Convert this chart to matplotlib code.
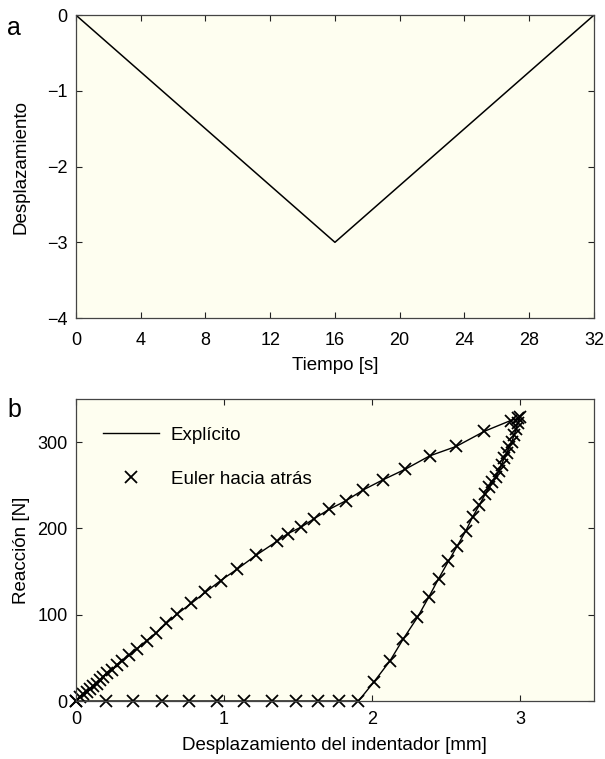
import matplotlib
matplotlib.use("Agg")
import matplotlib.pyplot as plt
from matplotlib import font_manager

# ---------------- data ----------------
# panel a: prescribed displacement vs time
time_s = [0, 16, 32]
disp_a = [0, -3, 0]
xticks_a = [0, 4, 8, 12, 16, 20, 24, 28, 32]
yticks_a = [-4, -3, -2, -1, 0]

# panel b: reaction vs indenter displacement (loading + unloading + no contact)
load_x = [0.0, 0.027, 0.049, 0.072, 0.094, 0.117, 0.139, 0.162, 0.184, 0.211,
          0.241, 0.274, 0.312, 0.360, 0.409, 0.477, 0.544, 0.611, 0.685, 0.778,
          0.875, 0.977, 1.091, 1.218, 1.358, 1.432, 1.522, 1.607, 1.710, 1.824,
          1.940, 2.077, 2.225, 2.390, 2.570, 2.760, 2.938, 2.990]
load_y = [0.0, 4.7, 7.8, 10.9, 14.0, 17.0, 20.0, 24.0, 28.0, 32.0,
          36.0, 42.0, 46.5, 53.0, 60.0, 70.0, 79.0, 90.0, 101.0, 113.0,
          126.0, 139.5, 153.0, 169.0, 185.0, 194.0, 201.5, 211.0, 222.0, 232.0,
          244.5, 256.5, 268.5, 284.0, 295.0, 312.5, 325.0, 327.5]
peak_x = [3.0]
peak_y = [329.0]
unload_x = [2.985, 2.975, 2.960, 2.945, 2.928, 2.910, 2.893, 2.876, 2.858, 2.837,
            2.814, 2.794, 2.765, 2.726, 2.680, 2.634, 2.578, 2.517, 2.450, 2.383,
            2.308, 2.212, 2.122, 2.013, 1.909]
unload_y = [322.0, 315.0, 308.0, 300.0, 294.0, 287.0, 281.0, 274.0, 267.0, 260.0,
            254.0, 248.0, 239.5, 227.0, 213.0, 197.0, 180.0, 162.0, 141.5, 120.0,
            97.0, 72.0, 46.5, 22.0, 0.0]
free_x = [1.779, 1.638, 1.487, 1.323, 1.133, 0.951, 0.763, 0.581, 0.385, 0.203, 0.0]
free_y = [0, 0, 0, 0, 0, 0, 0, 0, 0, 0, 0]
xticks_b = [0, 1, 2, 3]
yticks_b = [0, 100, 200, 300]

# ---------------- style ----------------
names = {f.name for f in font_manager.fontManager.ttflist}
fam = "Liberation Sans Narrow" if "Liberation Sans Narrow" in names else "Liberation Sans"
plt.rcParams['font.family'] = [fam, 'DejaVu Sans']
plt.rcParams['axes.unicode_minus'] = True

face = "#FEFEF0"
fs = 13

fig = plt.figure(figsize=(6.05, 7.59), dpi=100)
ax1 = fig.add_axes([0.1256, 0.5810, 0.856, 0.399])
ax2 = fig.add_axes([0.1256, 0.0764, 0.856, 0.398])

for ax in (ax1, ax2):
    ax.set_facecolor(face)
    ax.tick_params(direction='in', top=True, right=True, length=4, width=0.8,
                   labelsize=fs, colors='#222222', labelcolor='black')
    ax.tick_params(axis='y', pad=6)
    for s in ax.spines.values():
        s.set_linewidth(0.9)
        s.set_color('#444444')
ax1.tick_params(axis='x', pad=10)
ax2.tick_params(axis='x', pad=7)

# panel a
ax1.plot(time_s, disp_a, color='black', lw=1.1)
ax1.set_xlim(0, 32)
ax1.set_ylim(-4, 0)
ax1.set_xticks(xticks_a)
ax1.set_yticks(yticks_a)
ax1.set_xlabel("Tiempo [s]", fontsize=fs + 0.5, labelpad=6)
ax1.set_ylabel("Desplazamiento", fontsize=fs + 0.5, labelpad=13)

# panel b
all_x = load_x + peak_x + unload_x + free_x
all_y = load_y + peak_y + unload_y + free_y
ax2.plot(all_x, all_y, color='black', lw=1.0, label="Explícito", clip_on=False)
ax2.plot(all_x, all_y, ls='none', marker='x', ms=8.5, mew=1.3, color='black',
         label="Euler hacia atrás", clip_on=False)
ax2.set_xlim(0, 3.5)
ax2.set_ylim(0, 350)
ax2.set_xticks(xticks_b)
ax2.set_yticks(yticks_b)
ax2.set_xlabel("Desplazamiento del indentador [mm]", fontsize=fs + 0.5, labelpad=7)
ax2.set_ylabel("Reacción [N]", fontsize=fs + 0.5, labelpad=5)
leg = ax2.legend(loc='upper left', frameon=False, fontsize=fs + 0.5,
                 handlelength=3.0, labelspacing=1.45, borderaxespad=0.5,
                 handletextpad=0.6, bbox_to_anchor=(0.02, 0.965))

fig.text(0.012, 0.979, "a", fontsize=18, va='top', ha='left')
fig.text(0.012, 0.476, "b", fontsize=18, va='top', ha='left')

fig.savefig("out.png", dpi=100, facecolor='white')
